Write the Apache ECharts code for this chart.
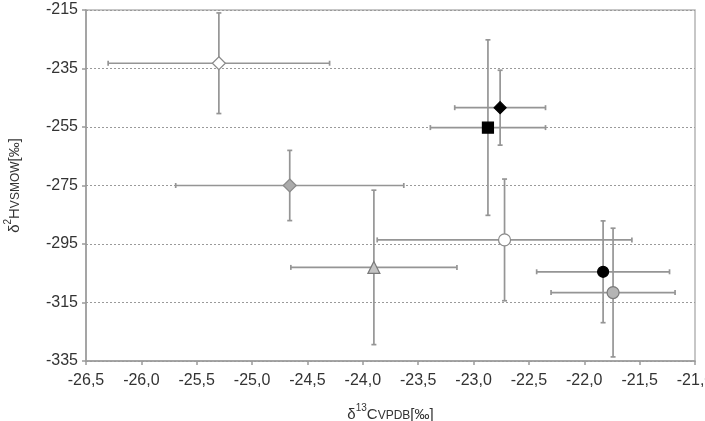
<!DOCTYPE html>
<html>
<head>
<meta charset="utf-8">
<script src="https://cdn.jsdelivr.net/npm/echarts@6/dist/echarts.min.js"></script>
<style>
  html, body { margin: 0; padding: 0; background: #fff; }
  #chart { width: 705px; height: 421px; }
</style>
</head>
<body>
<div id="chart"></div>
<script>
// values (delta13C, delta2H and their error bars)
const xMean = [-25.30, -24.66, -23.90, -22.76, -22.87, -22.72, -21.83, -21.74]
const yMean = [-233.2, -275.0, -303.0, -248.4, -255.2, -293.6, -304.5, -311.6]
const xErr = [1.00, 1.03, 0.75, 0.41, 0.52, 1.15, 0.60, 0.56]
const yErr = [17.2, 12.0, 26.4, 12.8, 30.0, 20.8, 17.4, 22.0]

// axis ranges
const xMin = -26.5
const xMax = -21.0
const xStep = 0.5
const yMin = -335
const yMax = -215
const yStep = 20

// marker look per point
const markerStyle = [
  { symbol: 'diamond', size: 13, fill: '#ffffff', border: '#8a8a8a' },
  { symbol: 'diamond', size: 13, fill: '#ababab', border: '#8a8a8a' },
  { symbol: 'triangle', size: 12, fill: '#c4c4c4', border: '#7a7a7a' },
  { symbol: 'diamond', size: 12, fill: '#000000', border: '#000000' },
  { symbol: 'rect', size: 11, fill: '#000000', border: '#000000' },
  { symbol: 'circle', size: 12, fill: '#ffffff', border: '#8a8a8a' },
  { symbol: 'circle', size: 11, fill: '#000000', border: '#000000' },
  { symbol: 'circle', size: 12, fill: '#b4b4b4', border: '#7a7a7a' }
]

// y values are shifted so that the ticks start at yMin
const shift = v => v - yMin

const barData = xMean.map((x, i) => [x, shift(yMean[i]), xErr[i], yErr[i]])
const pointData = xMean.map((x, i) => ({
  value: [x, shift(yMean[i])],
  symbol: markerStyle[i].symbol,
  symbolSize: markerStyle[i].size,
  itemStyle: { color: markerStyle[i].fill, borderColor: markerStyle[i].border, borderWidth: 1.2, opacity: 1 }
}))

const chart = echarts.init(document.getElementById('chart'))

function renderBars(params, api) {
  const x = api.value(0), y = api.value(1), ex = api.value(2), ey = api.value(3)
  const l = api.coord([x - ex, y]), r = api.coord([x + ex, y])
  const t = api.coord([x, y + ey]), b = api.coord([x, y - ey])
  const cap = 2.5
  const style = { stroke: '#959595', lineWidth: 1.7 }
  const line = (x1, y1, x2, y2) => ({ type: 'line', shape: { x1, y1, x2, y2 }, style })
  return {
    type: 'group',
    children: [
      line(l[0], l[1], r[0], r[1]),
      line(t[0], t[1], b[0], b[1]),
      line(l[0], l[1] - cap, l[0], l[1] + cap),
      line(r[0], r[1] - cap, r[0], r[1] + cap),
      line(t[0] - cap, t[1], t[0] + cap, t[1]),
      line(b[0] - cap, b[1], b[0] + cap, b[1])
    ]
  }
}

const font = 'Liberation Sans, Arial, sans-serif'
const labelFont = { color: '#333', fontSize: 16, fontFamily: font }
const titleRich = {
  t: { fontSize: 15, color: '#333', fontFamily: font, verticalAlign: 'bottom', lineHeight: 19 },
  sup: { fontSize: 10, color: '#333', fontFamily: font, verticalAlign: 'top', lineHeight: 19 },
  sub: { fontSize: 12, color: '#333', fontFamily: font, verticalAlign: 'bottom', lineHeight: 15 }
}

chart.setOption({
  animation: false,
  grid: {
    left: 86, right: 10, top: 10, bottom: 60,
    outerBoundsMode: 'none',
    containLabel: false,
    show: true, borderColor: '#b5b5b5', borderWidth: 1.5, backgroundColor: '#fff'
  },
  xAxis: {
    type: 'value',
    min: xMin, max: xMax, interval: xStep,
    name: '{t|δ}{sup|13}{t|C}{sub|VPDB}{t|[‰]}',
    nameLocation: 'middle', nameGap: 42,
    nameTextStyle: { rich: titleRich },
    axisLine: { onZero: false, lineStyle: { color: '#9a9a9a', width: 1.5 } },
    axisTick: { show: true, length: 4, lineStyle: { color: '#9a9a9a', width: 1.5 } },
    axisLabel: Object.assign({ margin: 12, formatter: v => v.toFixed(1).replace('.', ',') }, labelFont),
    splitLine: { show: false }
  },
  yAxis: {
    type: 'value',
    min: shift(yMin), max: shift(yMax), interval: yStep,
    name: '{t|δ}{sup|2}{t|H}{sub|VSMOW}{t|[‰]}',
    nameLocation: 'middle', nameRotate: 90, nameGap: 64,
    nameTextStyle: { rich: titleRich },
    axisLine: { show: true, onZero: false, lineStyle: { color: '#9a9a9a', width: 1.5 } },
    axisTick: { show: true, length: 4, lineStyle: { color: '#9a9a9a', width: 1.5 } },
    axisLabel: Object.assign({ margin: 8, formatter: v => String(v + yMin) }, labelFont),
    splitLine: { show: true, lineStyle: { color: '#9a9a9a', type: [2, 2], width: 1 } }
  },
  series: [
    {
      type: 'custom',
      renderItem: renderBars,
      data: barData,
      encode: { x: 0, y: 1 },
      z: 2,
      silent: true
    },
    {
      type: 'scatter',
      data: pointData,
      z: 3
    }
  ]
})
</script>
</body>
</html>
